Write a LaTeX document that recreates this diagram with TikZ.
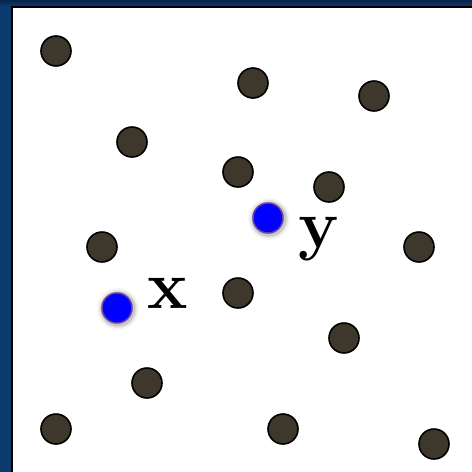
\documentclass[tikz,border=0pt]{standalone}
\usetikzlibrary{shadings}
\definecolor{bgblue}{HTML}{0D3A6E}
\definecolor{bgdark}{HTML}{082448}
\definecolor{dotfill}{HTML}{3E382C}
\definecolor{rim}{HTML}{6A3C9E}
\tikzset{
  pt/.style={circle, draw=black, line width=1.6pt, fill=dotfill, minimum size=30pt, inner sep=0pt},
  bluept/.style={circle, draw=rim, line width=1.5pt, fill=blue, minimum size=30pt, inner sep=0pt},
  lbl/.style={font=\fontsize{68}{68}\selectfont\bfseries, inner sep=0pt, anchor=base west},
}
\begin{document}
\begin{tikzpicture}[x=1pt,y=-1pt]
\useasboundingbox (0,0) rectangle (472,472);
\shade[left color=bgblue, right color=bgdark] (0,0) rectangle (472,472);
\shade[top color=bgdark, bottom color=bgblue] (0,0) rectangle (472,6);
\fill[white] (11,6) rectangle (472,472);
\draw[black, line width=2pt] (12,472) -- (12,7) -- (472,7);
% shadows for blue points
\foreach \c in {(269,219),(118,309)}{
  \foreach \r/\o in {21/0.04,19/0.07,17.5/0.12}{
    \fill[black, opacity=\o] \c circle (\r);
  }
}
\node[pt] (p1) at (56,51) {};
\node[pt] (p2) at (253,83) {};
\node[pt] (p3) at (374,96) {};
\node[pt] (p4) at (132,142) {};
\node[pt] (p5) at (238,172) {};
\node[pt] (p6) at (329,187) {};
\node[pt] (p7) at (102,247) {};
\node[pt] (p8) at (419,247) {};
\node[pt] (p9) at (238,293) {};
\node[pt] (p10) at (344,338) {};
\node[pt] (p11) at (147,383) {};
\node[pt] (p12) at (56,429) {};
\node[pt] (p13) at (283,429) {};
\node[pt] (p14) at (434,444) {};
\node[bluept] (y) at (268,218) {};
\node[bluept] (x) at (117,308) {};
\node[lbl] (ylbl) at (298,247) {y};
\node[lbl] (xlbl) at (147,308) {x};
\end{tikzpicture}
\end{document}
